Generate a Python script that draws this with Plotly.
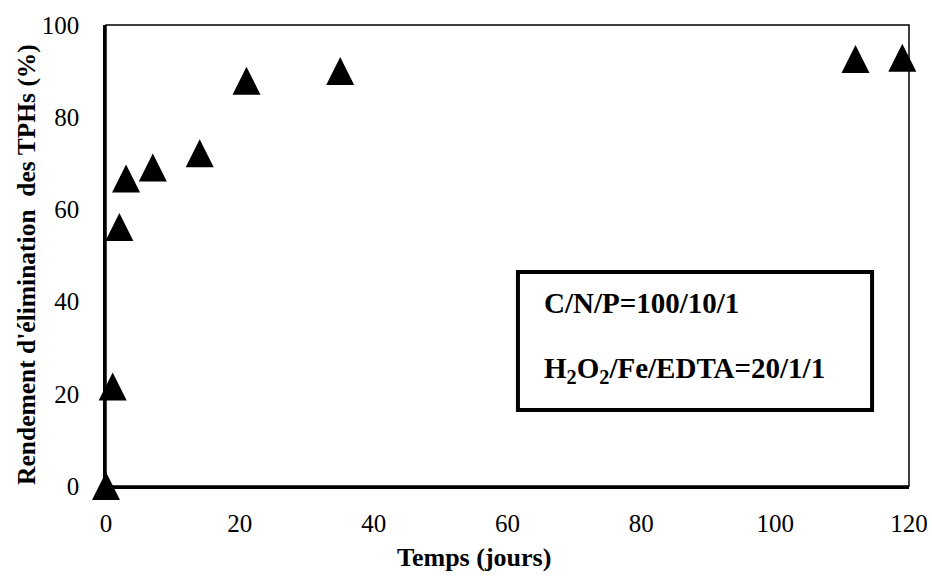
import plotly.graph_objects as go

# Data
temps_jours = [0, 1, 2, 3, 7, 14, 21, 35, 112, 119]
rendement_pct = [0, 21.6, 56.2, 66.7, 69.1, 72.2, 87.9, 90.0, 92.6, 92.9]

x_ticks = [0, 20, 40, 60, 80, 100, 120]
y_ticks = [0, 20, 40, 60, 80, 100]

x_title = "Temps (jours)"
y_title = "Rendement d'élimination  des TPHs (%)"
box_lines = ["C/N/P=100/10/1", "H<sub>2</sub>O<sub>2</sub>/Fe/EDTA=20/1/1"]

FONT = "Liberation Serif"
MS = 28

fig = go.Figure()
fig.add_trace(go.Scatter(
    x=temps_jours, y=rendement_pct, mode="markers",
    marker=dict(symbol="arrow-down", angle=180, standoff=MS / 2, size=MS,
                color="black", line=dict(width=0)),
    cliponaxis=False, showlegend=False,
))

axis_common = dict(showgrid=False, zeroline=False, showline=True, linecolor="black",
                   linewidth=2.5, ticks="", tickfont=dict(family=FONT, size=25, color="black"),
                   mirror=False, automargin=False)

fig.update_xaxes(range=[0, 120], tickvals=x_ticks, ticklabelstandoff=13, **axis_common)
fig.update_yaxes(range=[0, 100], tickvals=y_ticks, ticklabelstandoff=19, **axis_common)

# plot area border (top / right thinner)
fig.add_shape(type="rect", xref="paper", yref="paper", x0=0, x1=1, y0=0, y1=1,
              line=dict(color="black", width=1.5), layer="below")

# axis titles
fig.add_annotation(xref="paper", yref="paper", x=0.458, y=-0.156, xanchor="center", yanchor="middle",
                   text="<b>" + x_title + "</b>", showarrow=False,
                   font=dict(family=FONT, size=26, color="black"))
fig.add_annotation(xref="paper", yref="paper", x=-0.0984, y=0.4816, xanchor="center", yanchor="middle",
                   text="<b>" + y_title + "</b>", showarrow=False, textangle=-90,
                   font=dict(family=FONT, size=25.5, color="black"))

# text box
fig.add_shape(type="rect", xref="paper", yref="paper", x0=0.513, x1=0.954, y0=0.165, y1=0.464,
              line=dict(color="black", width=4), fillcolor="white")
fig.add_annotation(xref="paper", yref="paper", x=0.543, y=0.397, xanchor="left", yanchor="middle",
                   text="<b>" + box_lines[0] + "</b>", showarrow=False,
                   font=dict(family=FONT, size=29, color="black"))
fig.add_annotation(xref="paper", yref="paper", x=0.543, y=0.252, xanchor="left", yanchor="middle",
                   text="<b>" + box_lines[1] + "</b>", showarrow=False,
                   font=dict(family=FONT, size=29, color="black"))

fig.update_layout(
    width=932, height=583,
    margin=dict(l=106, r=23, t=25, b=97),
    paper_bgcolor="white", plot_bgcolor="white",
    font=dict(family=FONT, color="black"),
)

fig.write_html("out.html")
